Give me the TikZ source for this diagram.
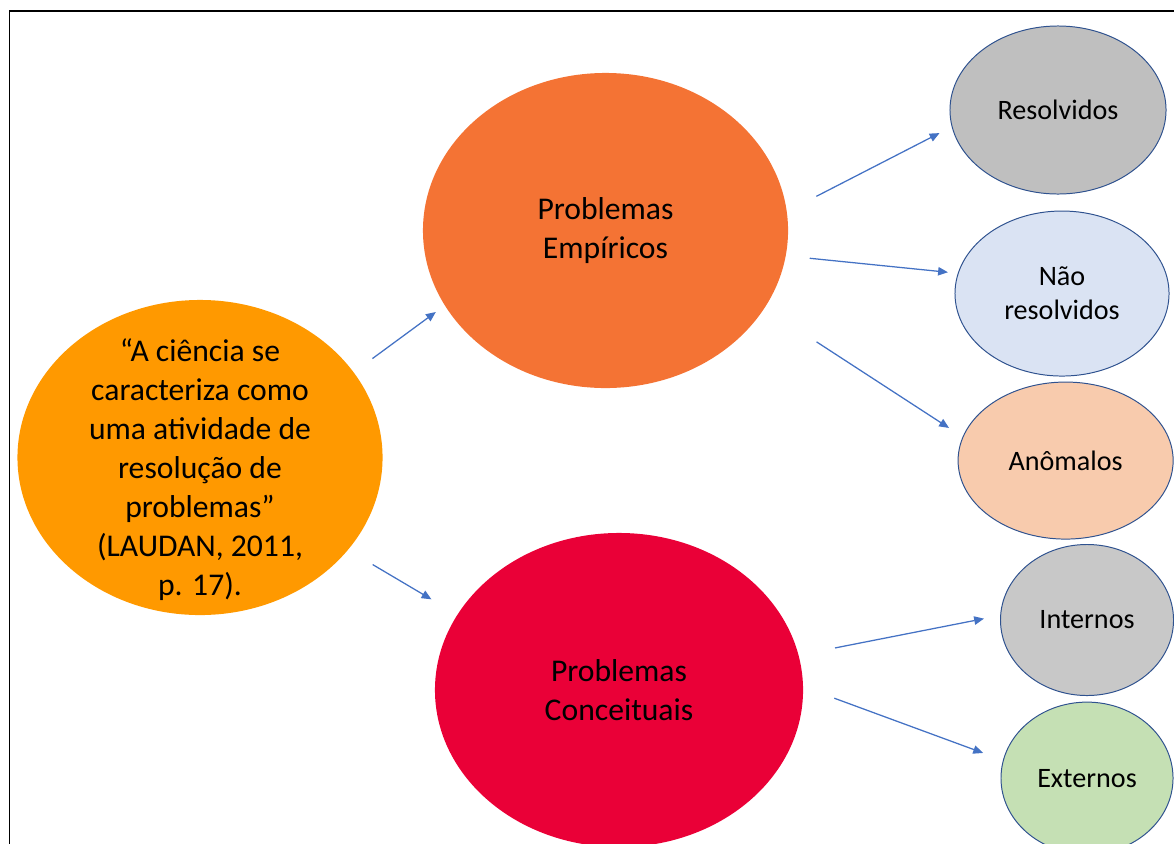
\documentclass[tikz,border=0pt]{standalone}
\usepackage{fontspec}
\setmainfont{Carlito}
\usetikzlibrary{shapes.geometric, arrows.meta, positioning}

\definecolor{quoteorange}{RGB}{255,153,0}
\definecolor{emporange}{RGB}{244,115,52}
\definecolor{concred}{RGB}{234,0,55}
\definecolor{solvedgray}{RGB}{191,191,191}
\definecolor{openblue}{RGB}{218,227,243}
\definecolor{anompeach}{RGB}{248,203,173}
\definecolor{intgray}{RGB}{200,200,200}
\definecolor{extgreen}{RGB}{197,224,180}
\definecolor{rimblue}{RGB}{47,82,143}
\definecolor{arrowblue}{RGB}{68,114,196}

\begin{document}
\begin{tikzpicture}[
  x=0.025cm, y=-0.025cm,
  bigblob/.style={ellipse, inner sep=0pt, align=center, font=\fontsize{22.5}{27.8}\selectfont},
  smallblob/.style={ellipse, draw=rimblue, line width=0.7pt, inner sep=0pt, align=center, font=\fontsize{20}{24}\selectfont},
  link/.style={draw=arrowblue, line width=0.9pt, -{Triangle[length=7pt, width=6pt]}}
]

\useasboundingbox (0,0) rectangle (1174,843);

% Frame
\draw[line width=1.4pt] (9.5,870) |- (1200,11);

% Quote and the two kinds of problems
\node[bigblob, fill=quoteorange, minimum width=9.125cm, minimum height=7.875cm,
  label={[font=\fontsize{22.5}{27.8}\selectfont, align=center, yshift=-0.3cm]center:{“A ciência se\\caracteriza como\\uma atividade de\\resolução de\\problemas”\\(LAUDAN, 2011,\\p. 17).}}] (quote) at (200,457.5) {};
\node[bigblob, fill=emporange, minimum width=9.125cm, minimum height=7.875cm] (emp) at (605.5,230.5) {Problemas\\Empíricos};
\node[bigblob, fill=concred, minimum width=9.2cm, minimum height=7.85cm] (conc) at (619,690) {Problemas\\Conceituais};

% Empirical problems
\node[smallblob, fill=solvedgray, minimum width=5.4cm, minimum height=4.2cm] (res) at (1058,110) {Resolvidos};
\node[smallblob, fill=openblue, minimum width=5.35cm, minimum height=4.125cm, below=0.4cm of res, xshift=0.1cm] (nres) {Não\\resolvidos};
\node[smallblob, fill=anompeach, minimum width=5.375cm, minimum height=3.925cm, below=0.125cm of nres, xshift=0.09cm] (anom) {Anômalos};

% Conceptual problems
\node[smallblob, fill=intgray, minimum width=4.325cm, minimum height=3.775cm] (int) at (1087,620) {Internos};
\node[smallblob, fill=extgreen, minimum width=4.3cm, minimum height=3.8cm, below=0.14cm of int] (ext) {Externos};

% Arrows
\draw[link, shorten <=16.4pt, shorten >=7.8pt] (quote.29.7) -- (emp.205);
\draw[link, shorten <=20.3pt, shorten >=21.3pt] (quote.-32.5) -- (conc.155.6);
\draw[link, shorten <=23.5pt, shorten >=9.7pt] (emp.6) -- (res.189);
\draw[link, shorten <=17pt, shorten >=7pt] (emp.-8.6) -- (nres.169);
\draw[link, shorten <=44pt, shorten >=11.5pt] (emp.-26.6) -- (anom.167.3);
\draw[link, shorten <=26.3pt, shorten >=11.7pt] (conc.11.6) -- (int.177.4);
\draw[link, shorten <=23.5pt, shorten >=15pt] (conc.1.3) -- (ext.168.7);

\end{tikzpicture}
\end{document}
